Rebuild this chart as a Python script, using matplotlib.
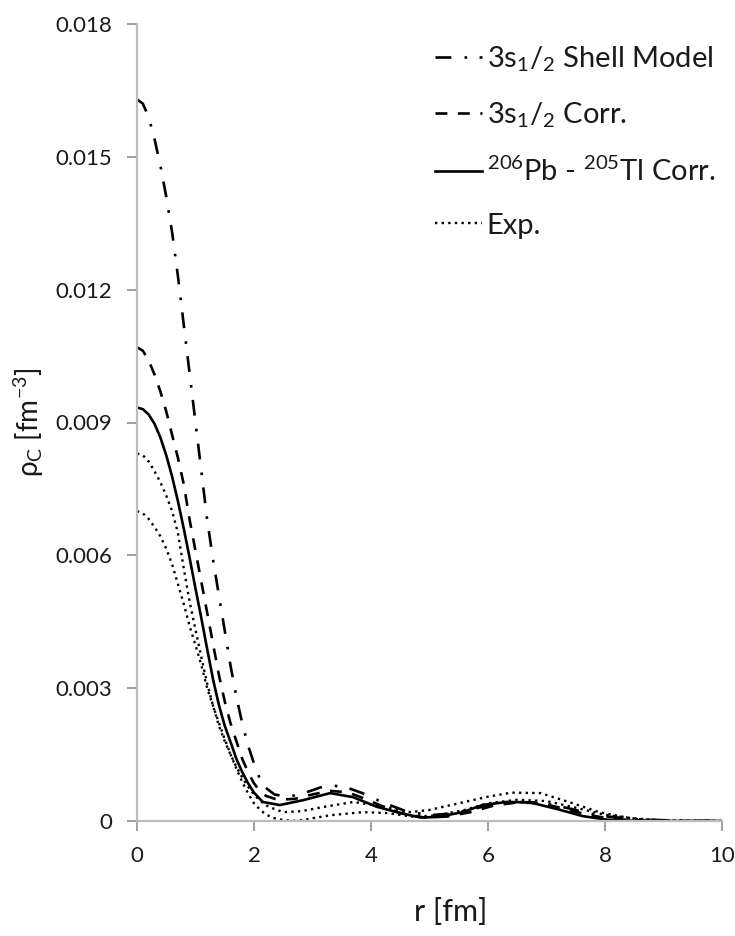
import matplotlib
matplotlib.use('Agg')
import matplotlib.pyplot as plt

# radius [fm] and charge density [fm^-3]
r_shell = [0, 0.1, 0.2, 0.3, 0.4, 0.5, 0.6, 0.7, 0.8, 0.9, 1.0, 1.1, 1.2, 1.3, 1.4, 1.5,
           1.6, 1.7, 1.8, 1.9, 2.0, 2.1, 2.2, 2.35, 2.58, 2.9, 3.25, 3.56, 3.85, 4.2, 4.6,
           5.0, 5.4, 5.9, 6.4, 6.9, 7.4, 7.9, 8.5, 9.2, 10]
rho_shell = [0.0163, 0.0162, 0.0159, 0.0154, 0.0148, 0.0141, 0.0133, 0.0123, 0.0112, 0.0101,
             0.0090, 0.0079, 0.0068, 0.0059, 0.0051, 0.0043, 0.0035, 0.0028, 0.0022,
             0.0017, 0.0013, 0.00095, 0.00075, 0.0006, 0.00054, 0.00065, 0.00081, 0.00077,
             0.00063, 0.00042, 0.00022, 0.00013, 0.00017, 0.00032, 0.00043, 0.00042,
             0.00028, 0.00012, 0.00004, 0.00001, 0.0]

r_corr = [0, 0.1, 0.2, 0.3, 0.4, 0.5, 0.6, 0.7, 0.8, 0.9, 1.0, 1.1, 1.2, 1.3, 1.4, 1.5,
          1.6, 1.7, 1.8, 1.9, 2.0, 2.1, 2.2, 2.4, 2.7, 3.0, 3.3, 3.6, 3.9, 4.2, 4.5, 4.9,
          5.3, 5.7, 6.1, 6.5, 6.9, 7.3, 7.7, 8.1, 8.6, 9.2, 10]
rho_corr = [0.0107, 0.01062, 0.0104, 0.01008, 0.0097, 0.00925, 0.00872, 0.0082, 0.0076,
            0.0068, 0.0061, 0.0054, 0.0047, 0.0040, 0.0033, 0.0027, 0.0022, 0.0018, 0.0014,
            0.0011, 0.00085, 0.00068, 0.00057, 0.00048, 0.0005, 0.0006, 0.00068, 0.00065,
            0.0005, 0.00033, 0.00018, 0.00008, 0.0001, 0.0002, 0.00035, 0.00042, 0.0004,
            0.00028, 0.00014, 0.00005, 0.00001, 0.0, 0.0]

r_pbtl = [0, 0.1, 0.2, 0.3, 0.4, 0.5, 0.6, 0.7, 0.8, 0.9, 1.0, 1.1, 1.2, 1.3, 1.4, 1.5,
          1.6, 1.7, 1.8, 1.9, 2.0, 2.15, 2.44, 2.84, 3.3, 3.69, 4.1, 4.5, 4.84, 5.13, 5.57,
          5.9, 6.32, 6.72, 7.18, 7.62, 8.03, 8.6, 9.3, 10]
rho_pbtl = [0.00934, 0.0093, 0.00918, 0.00897, 0.00866, 0.00826, 0.00778, 0.00722, 0.0066,
            0.00594, 0.00525, 0.00458, 0.00388, 0.0032, 0.00262, 0.00215, 0.00178, 0.0014,
            0.0011, 0.00085, 0.00064, 0.00043, 0.00036, 0.00047, 0.00063, 0.00054, 0.00032,
            0.00018, 0.00008, 0.00009, 0.0002, 0.00036, 0.00043, 0.00042, 0.00027, 0.00011,
            0.00003, 0.0, 0.0, 0.0]

# experimental band: upper and lower edge
r_exp_hi = [0, 0.1, 0.2, 0.3, 0.4, 0.5, 0.6, 0.7, 0.8, 0.9, 1.0, 1.1, 1.2, 1.3, 1.4, 1.5,
            1.6, 1.7, 1.8, 1.9, 2.0, 2.1, 2.25, 2.5, 2.8, 3.2, 3.7, 4.2, 4.67, 5.0, 5.5, 6.0,
            6.4, 6.9, 7.45, 7.9, 8.4, 9.0, 10]
rho_exp_hi = [0.0083, 0.00826, 0.00812, 0.0079, 0.00765, 0.00735, 0.0070, 0.0065, 0.0057,
              0.00495, 0.00432, 0.0037, 0.0031, 0.0026, 0.00215, 0.0018, 0.0015, 0.00122,
              0.00098, 0.00077, 0.0006, 0.00046, 0.00032, 0.0002, 0.00022, 0.00032,
              0.00043, 0.00033, 0.0002, 0.00025, 0.0004, 0.00055, 0.00064, 0.00063, 0.0004,
              0.0002, 0.00007, 0.00001, 0.0]

r_exp_lo = [0, 0.1, 0.2, 0.3, 0.4, 0.5, 0.6, 0.7, 0.8, 0.9, 1.0, 1.1, 1.2, 1.3, 1.4, 1.5,
            1.6, 1.7, 1.8, 1.9, 2.0, 2.1, 2.2, 2.33, 2.5, 2.73, 3.3, 3.86, 4.27, 4.7, 5.1,
            5.6, 6.0, 6.5, 7.0, 7.5, 8.0, 8.6, 9.3, 10]
rho_exp_lo = [0.0070, 0.00695, 0.00682, 0.00664, 0.00643, 0.00615, 0.0058, 0.00535, 0.0049,
              0.0044, 0.00397, 0.00352, 0.0030, 0.0026, 0.00222, 0.00185, 0.0015, 0.00118,
              0.00088, 0.00062, 0.0004, 0.00026, 0.00015, 0.00007, 0.00002, 0.0, 0.00013,
              0.0002, 0.00018, 0.0001, 0.00012, 0.00025, 0.0004, 0.00048, 0.00045, 0.0003,
              0.00014, 0.00004, 0.0, 0.0]

x_ticks = [0, 2, 4, 6, 8, 10]
y_ticks = [0, 0.003, 0.006, 0.009, 0.012, 0.015, 0.018]
y_tick_labels = ['0', '0.003', '0.006', '0.009', '0.012', '0.015', '0.018']

plt.rcParams['font.family'] = ['Lato', 'DejaVu Sans']
plt.rcParams['mathtext.fontset'] = 'custom'
plt.rcParams['mathtext.rm'] = 'Lato'
plt.rcParams['mathtext.it'] = 'Lato:italic'
plt.rcParams['mathtext.default'] = 'regular'

text_color = '#1a1a1a'
axis_color = '#bdbdbd'

fig = plt.figure(figsize=(7.35, 9.36), dpi=100)
ax = fig.add_axes([137 / 735, 1 - 821 / 936, 585 / 735, 797 / 936])

lw = 1.9
ax.plot(r_shell, rho_shell, color='black', lw=lw, linestyle=(0, (6, 5, 1, 4.7)),
        label=r'3s$_1$/$_2$ Shell Model')
ax.plot(r_corr, rho_corr, color='black', lw=lw, linestyle=(0, (4.5, 4)),
        label=r'3s$_1$/$_2$ Corr.')
ax.plot(r_pbtl, rho_pbtl, color='black', lw=lw, linestyle='-',
        label=r'$^{206}$Pb - $^{205}$Tl Corr.')
ax.plot(r_exp_hi, rho_exp_hi, color='black', lw=1.7, linestyle=(0, (1, 1.8)), label='Exp.')
ax.plot(r_exp_lo, rho_exp_lo, color='black', lw=1.7, linestyle=(0, (1, 1.8)))

ax.set_xlim(0, 10)
ax.set_ylim(0, 0.018)
ax.set_xticks(x_ticks)
ax.set_xticklabels([str(t) for t in x_ticks])
ax.set_yticks(y_ticks)
ax.set_yticklabels(y_tick_labels)

for side in ['top', 'right']:
    ax.spines[side].set_visible(False)
for side in ['left', 'bottom']:
    ax.spines[side].set_color(axis_color)
    ax.spines[side].set_linewidth(1.6)

ax.tick_params(axis='both', direction='out', length=7, width=1.3, color='#999999',
               labelsize=16, labelcolor=text_color, pad=11)

ax.set_xlabel('r [fm]', fontsize=22, color=text_color)
ax.xaxis.set_label_coords(0.537, -0.097)
ax.set_ylabel('ρ$_C$ [fm$^{-3}$]', fontsize=20, color=text_color)
ax.yaxis.set_label_coords(-0.155, 0.5)

leg = ax.legend(loc='upper left', bbox_to_anchor=(435 / 735, 1 - 44 / 936),
                bbox_transform=fig.transFigure, frameon=False, fontsize=21,
                handlelength=1.62, handletextpad=0.15, labelspacing=0.92, borderpad=0,
                borderaxespad=0)
for t in leg.get_texts():
    t.set_color(text_color)

fig.savefig('out.png', dpi=100)
